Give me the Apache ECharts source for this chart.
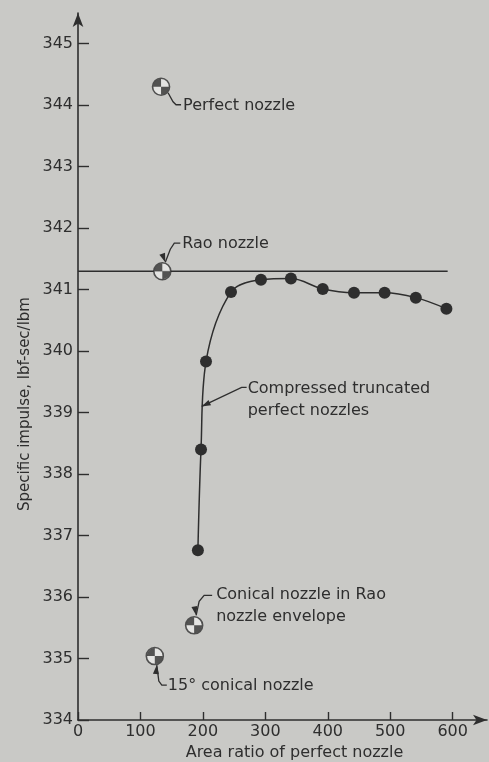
<!DOCTYPE html>
<html>
<head>
<meta charset="utf-8">
<script src="https://cdn.jsdelivr.net/npm/echarts@6/dist/echarts.min.js"></script>
<style>
  html, body { margin: 0; padding: 0; background: #c9c9c6; }
  #chart { width: 489px; height: 762px; }
</style>
</head>
<body>
<div id="chart"></div>
<script>
// tick values
const xTicks = [0, 100, 200, 300, 400, 500, 600]
const yTicks = [334, 335, 336, 337, 338, 339, 340, 341, 342, 343, 344, 345]

// compressed truncated perfect nozzles (area ratio, Isp)
const truncX = [192, 197, 205, 245, 293, 341, 392, 442, 491, 541, 590]
const truncY = [336.76, 338.40, 339.83, 340.96, 341.16, 341.18, 341.01, 340.95, 340.95, 340.87, 340.69]

// Rao nozzle reference line
const raoLineX = [0, 592]
const raoLineY = [341.3, 341.3]

// special nozzles (quartered circle markers)
const specialNames = ['Perfect nozzle', 'Rao nozzle', 'Conical nozzle in Rao nozzle envelope', '15° conical nozzle']
const specialX = [133, 135, 186, 123]
const specialY = [344.3, 341.3, 335.54, 335.04]

const ink = '#2e2e2e'
const font = 'DejaVu Sans'
// two filled quadrants (top-left, bottom-right) of the target symbol
const quarterPath = 'path://M10,10 L10,0 A10,10 0 0 0 0,10 Z M10,10 L10,20 A10,10 0 0 0 20,10 Z'

const chart = echarts.init(document.getElementById('chart'))

const specialData = specialX.map((x, i) => [x, specialY[i]])

chart.setOption({
  backgroundColor: '#c9c9c6',
  animation: false,
  grid: { left: 78, right: 2, top: 13, bottom: 42, outerBoundsMode: 'none' },
  xAxis: {
    type: 'value', min: 0, max: 655,
    axisLine: { lineStyle: { color: ink, width: 1.6 }, symbol: ['none', 'arrow'], symbolSize: [8, 14] },
    axisTick: { inside: true, length: 8, customValues: xTicks, lineStyle: { color: ink, width: 1.4 } },
    axisLabel: { customValues: xTicks, color: ink, fontFamily: font, fontSize: 16, margin: 4 },
    splitLine: { show: false },
    name: 'Area ratio of perfect nozzle', nameLocation: 'middle', nameGap: 25,
    nameTextStyle: { color: ink, fontFamily: font, fontSize: 16, padding: [0, 0, 0, 24] }
  },
  yAxis: {
    type: 'value', min: 334, max: 345.5,
    axisLine: { lineStyle: { color: ink, width: 1.6 }, symbol: ['none', 'arrow'], symbolSize: [8, 14] },
    axisTick: { inside: true, length: 11, customValues: yTicks, lineStyle: { color: ink, width: 1.4 } },
    axisLabel: { customValues: yTicks, color: ink, fontFamily: font, fontSize: 16, margin: 5 },
    splitLine: { show: false }
  },
  series: [
    {
      type: 'line', data: raoLineX.map((x, i) => [x, raoLineY[i]]),
      symbol: 'none', lineStyle: { color: ink, width: 1.5 }, z: 2
    },
    {
      type: 'line', data: truncX.map((x, i) => [x, truncY[i]]),
      smooth: 0.35, symbol: 'circle', symbolSize: 12,
      itemStyle: { color: ink }, lineStyle: { color: ink, width: 1.5 }, z: 3
    },
    {
      type: 'scatter', data: specialData, symbol: 'circle', symbolSize: 17,
      itemStyle: { color: '#ebebe8', borderColor: ink, borderWidth: 1.6 }, z: 4
    },
    {
      type: 'scatter', data: specialData, symbol: quarterPath, symbolSize: 16,
      itemStyle: { color: ink }, z: 5
    }
  ]
})

// annotations with leader lines, placed relative to the data points
const txt = { fill: ink, fontFamily: font, fontSize: 16 }
function px(x, y) { return chart.convertToPixel({ gridIndex: 0 }, [x, y]) }
const g = []
function leader(p, pts) {
  g.push({ type: 'polyline', shape: { points: pts.map(d => [p[0] + d[0], p[1] + d[1]]) },
    style: { stroke: ink, lineWidth: 1.3, fill: null }, z: 10 })
}
function label(p, dx, dy, text) {
  g.push({ type: 'text', x: p[0] + dx, y: p[1] + dy,
    style: Object.assign({ text: text, verticalAlign: 'top', lineHeight: 22 }, txt), z: 10 })
}
function arrow(p, ang) {
  g.push({ type: 'polygon', x: p[0], y: p[1], rotation: ang,
    shape: { points: [[0, 0], [9, -3], [9, 3]] }, style: { fill: ink }, z: 10 })
}

let p = px(specialX[0], specialY[0])
leader(p, [[7, 6], [12, 15], [15, 18], [20, 18]])
label(p, 22, 8, 'Perfect nozzle')

p = px(specialX[1], specialY[1])
leader(p, [[3, -9], [8, -22], [12, -28], [18, -28]])
arrow([p[0] + 3, p[1] - 9], Math.PI / 2 + 0.35)
label(p, 20, -38, 'Rao nozzle')

p = px(198, 339.1)
leader(p, [[0, 0], [40, -19], [45, -19]])
arrow(p, Math.atan2(19, 40))
label(p, 46, -29, 'Compressed truncated\nperfect nozzles')

p = px(specialX[2], specialY[2])
leader(p, [[2, -10], [5, -24], [10, -30], [18, -30]])
arrow([p[0] + 2, p[1] - 10], Math.PI / 2 + 0.2)
label(p, 22, -41, 'Conical nozzle in Rao\nnozzle envelope')

p = px(specialX[3], specialY[3])
leader(p, [[2, 9], [4, 25], [7, 29], [12, 29]])
arrow([p[0] + 2, p[1] + 9], -Math.PI / 2 - 0.1)
label(p, 13, 19, '15° conical nozzle')

g.push({ type: 'text', x: 25, y: 404, rotation: Math.PI / 2,
  style: Object.assign({ text: 'Specific impulse, lbf-sec/lbm', align: 'center', verticalAlign: 'middle' }, txt, { fontSize: 15 }), z: 10 })

chart.setOption({ graphic: g })
</script>
</body>
</html>
